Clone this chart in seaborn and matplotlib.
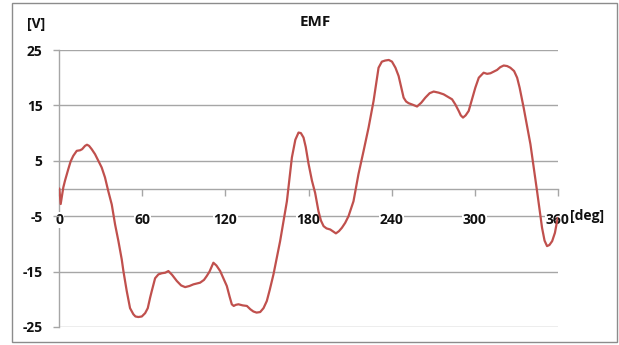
import matplotlib
matplotlib.use("Agg")
import matplotlib.pyplot as plt
import seaborn as sns
import pandas as pd
from matplotlib.patches import Rectangle

angle_deg = [0, 1, 1.7, 2.9, 4.1, 6.5, 8.2, 10.1, 12.6, 15, 16.5, 18.6, 20, 21.5, 23.4,
             25.8, 28.2, 30.6, 33, 35.4, 37.9, 40.3, 42.7, 45.1, 46.3, 48.7, 51.1, 53.5,
             55, 57.1, 59.6, 62, 63.9, 65.6, 66.8, 69.2, 71.6, 74, 76.5, 78.8, 81.5,
             84.9, 88, 90.9, 94, 96.9, 101.7, 104.5, 106.5, 108.5, 111.3, 113.5, 116.2,
             118.5, 121, 123, 124.6, 126, 127.5, 129.4, 132.5, 135.5, 138, 140.2, 142.5,
             145.1, 147.5, 149.9, 152, 154.7, 159.5, 164.4, 168, 170.5, 172.8, 174.5,
             176.4, 178, 180, 182.5, 184.8, 187.2, 189, 190.9, 193, 195.7, 199.8, 202,
             204.1, 206.5, 208.9, 212.5, 216.1, 219.8, 223.4, 227, 230.6, 233, 235.4,
             238, 240.3, 242.8, 245.1, 248.7, 250.5, 252.3, 255.5, 258.4, 261.5, 264.4,
             267.5, 270.4, 274, 277.6, 283.7, 286, 288.5, 290, 291.6, 293.5, 295.7, 298,
             300.5, 303, 306.5, 309, 311.4, 316.2, 318.5, 321, 323.5, 325.8, 328.5,
             330.7, 332.5, 335.4, 340.3, 345.1, 348.7, 350.5, 352.3, 354, 356, 358, 360]
emf_v = [0, -2.8, -1.7, 0.2, 1.4, 3.5, 4.9, 5.9, 6.8, 6.9, 7.1, 7.7, 7.9, 7.7, 7.1,
         6.2, 5.0, 3.8, 2.0, -0.5, -2.9, -6.5, -9.5, -12.8, -14.9, -18.5, -21.6, -22.7,
         -23.1, -23.2, -23.1, -22.5, -21.6, -19.7, -18.5, -16.2, -15.5, -15.3, -15.2,
         -14.9, -15.6, -16.7, -17.5, -17.8, -17.6, -17.3, -17.0, -16.5, -15.8, -15.0,
         -13.4, -13.9, -14.9, -16.2, -17.6, -19.5, -20.9, -21.2, -21.0, -20.9, -21.1,
         -21.2, -21.8, -22.2, -22.4, -22.3, -21.6, -20.3, -18.3, -15.5, -9.5, -2.3,
         5.6, 8.8, 10.1, 10.0, 9.2, 7.5, 4.5, 1.4, -0.8, -4.1, -5.8, -6.8, -7.2, -7.4,
         -8.1, -7.7, -7.1, -6.2, -5.0, -2.3, 2.6, 6.8, 11.0, 15.8, 21.8, 22.9, 23.1,
         23.2, 22.9, 21.8, 20.3, 16.4, 15.7, 15.4, 15.1, 14.8, 15.5, 16.4, 17.2, 17.5,
         17.3, 17.0, 16.1, 15.2, 14.0, 13.2, 12.8, 13.2, 14.0, 16.0, 18.2, 20.0, 20.9,
         20.7, 20.8, 21.4, 21.9, 22.2, 22.1, 21.8, 21.2, 20.0, 18.2, 14.6, 8.0, -0.5,
         -7.1, -9.4, -10.4, -10.2, -9.5, -8.0, -5.3]
x_ticks = [0, 60, 120, 180, 240, 300, 360]
y_ticks = [-25, -15, -5, 5, 15, 25]
title = "EMF"
y_unit = "[V]"
x_unit = "[deg]"

sns.set_theme(style="white")
plt.rcParams['font.family'] = ['Open Sans', 'DejaVu Sans']

W, H = 619, 345
fig = plt.figure(figsize=(W / 100, H / 100), dpi=100)
ax = fig.add_axes([59.3 / W, (H - 327) / H, 498.4 / W, 277 / H])

df = pd.DataFrame({"deg": angle_deg, "emf": emf_v})
sns.lineplot(data=df, x="deg", y="emf", ax=ax, color="#C0504D", linewidth=1.6,
             solid_joinstyle="round", solid_capstyle="round", zorder=4)

grid_c = "#A6A6A6"
ax.set_xlim(0, 360)
ax.set_ylim(-25, 25)
for yv in y_ticks:
    ax.axhline(yv, color=grid_c, linewidth=1.0, zorder=0)

for s in ["top", "right"]:
    ax.spines[s].set_visible(False)
ax.spines["left"].set_color(grid_c)
ax.spines["left"].set_linewidth(1.0)
ax.spines["left"].set_zorder(0.5)
ax.spines["bottom"].set_position(("data", 0))
ax.spines["bottom"].set_color(grid_c)
ax.spines["bottom"].set_linewidth(1.0)
ax.spines["bottom"].set_zorder(0.5)

fs = 10
ax.set_xticks(x_ticks)
ax.set_xticklabels([str(t) for t in x_ticks])
ax.set_yticks(y_ticks)
ax.set_yticklabels([str(t) for t in y_ticks])
ax.tick_params(axis="x", direction="out", length=5, width=1, color=grid_c, pad=12.5,
               labelsize=fs, labelcolor="#111111", bottom=True)
ax.tick_params(axis="y", direction="out", length=4, width=1, color=grid_c, pad=8,
               labelsize=fs, labelcolor="#111111", left=True)
for lab in ax.get_xticklabels() + ax.get_yticklabels():
    lab.set_fontweight("bold")
for lab in ax.get_xticklabels():
    lab.set_bbox(dict(facecolor="white", edgecolor="none", pad=0.5))
ax.set_xlabel("")
ax.set_ylabel("")

fig.text(570 / W, 1 - 216 / H, x_unit, ha="left", va="center", fontsize=fs,
         fontweight="bold", color="#111111")
fig.text(36 / W, 1 - 24 / H, y_unit, ha="center", va="center", fontsize=fs,
         fontweight="bold", color="#111111")
fig.text(315 / W, 1 - 22 / H, title, ha="center", va="center", fontsize=11,
         fontweight="bold", color="#111111")

fig.patches.append(Rectangle((12 / W, 3 / H), 605 / W, 339 / H, transform=fig.transFigure,
                             fill=False, edgecolor="#8C8C8C", linewidth=1.0))

fig.savefig("out.png", dpi=100)
